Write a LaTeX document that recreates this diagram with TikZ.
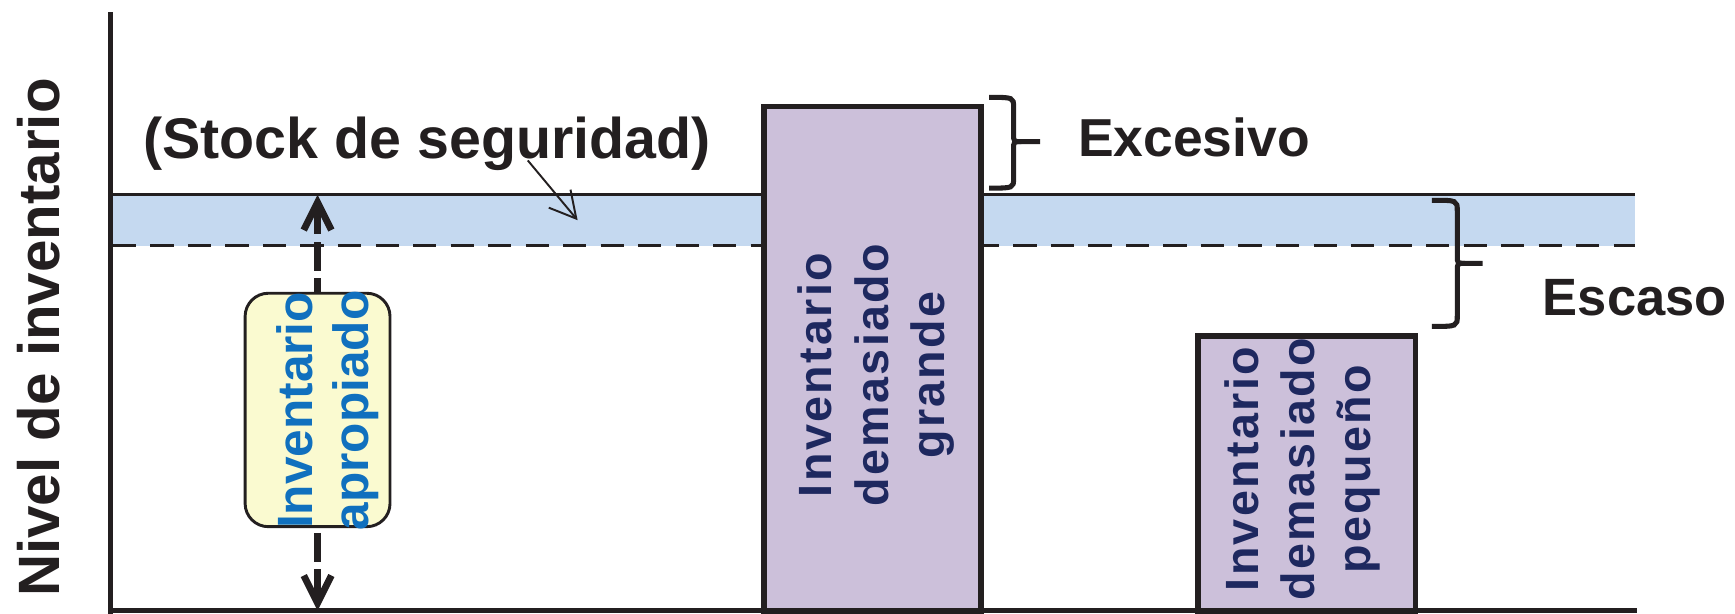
\documentclass[tikz,border=0pt]{standalone}
\usepackage{fontspec}
\setmainfont{Liberation Sans}
\newfontfamily\barfont[LetterSpace=5]{Liberation Sans}
\usetikzlibrary{arrows.meta}
\definecolor{BandBlue}{RGB}{197,217,240}
\definecolor{BarPurple}{RGB}{204,192,218}
\definecolor{SoftYellow}{RGB}{250,250,208}
\definecolor{TextBlue}{RGB}{16,112,190}
\definecolor{TextNavy}{RGB}{30,40,95}
\definecolor{InkBlack}{RGB}{35,31,32}
\tikzset{
  axis/.style={line width=2.6pt,InkBlack},
  bar/.style={draw=InkBlack,fill=BarPurple,line width=2.8pt,inner sep=0pt},
  okbox/.style={draw=InkBlack,fill=SoftYellow,line width=1.5pt,rounded corners=0.42cm,inner sep=0pt},
  bartext/.style={rotate=90,align=center,text=TextNavy,inner sep=0pt,
    font=\barfont\bfseries\fontsize{24}{29}\selectfont},
  oktext/.style={rotate=90,align=center,text=TextBlue,inner sep=0pt,
    font=\bfseries\fontsize{25.5}{28.5}\selectfont},
  bigtext/.style={text=InkBlack,inner sep=0pt,font=\bfseries\fontsize{27.5}{31}\selectfont},
  bandline/.style={line width=1.3pt,InkBlack},
  dasharrow/.style={{Straight Barb[length=5mm,width=5mm]}-{Straight Barb[length=5mm,width=5mm]},
    line width=3.5pt,dash pattern=on 14.7pt off 4pt,InkBlack},
  pointer/.style={-{Straight Barb[length=4.7mm,width=5.1mm]},line width=1pt,InkBlack},
  bracket/.style={line width=2.6pt,InkBlack}
}

\begin{document}
\begin{tikzpicture}[x=0.02cm,y=-0.02cm]
  \useasboundingbox (0,0) rectangle (1568,554);

  % safety stock band
  \coordinate (bandNW) at (102,176);
  \coordinate (bandSE) at (1478,222);
  \fill[BandBlue] (bandNW) rectangle (bandSE);
  \draw[bandline] (bandNW) -- (bandNW -| bandSE);
  \draw[bandline,dash pattern=on 11.9pt off 7.4pt] (bandNW |- bandSE) -- (bandSE);

  % inventory bars
  \node[bar,minimum width=3.92cm,minimum height=9.2cm] (big) at (788.5,326) {};
  \node[bar,minimum width=3.93cm,minimum height=5.05cm] (small) at (1180.8,429.75) {};

  % axes
  \coordinate (ytop) at (100,11);
  \coordinate (origin) at (100,552);
  \coordinate (xend) at (1479,552);
  \draw[axis] (ytop) -- (100,556);
  \draw[axis] (98,552) -- (xend);
  \node[bigtext,rotate=90,font=\bfseries\fontsize{30}{34}\selectfont] (ylabel) at (35,305) {Nivel de inventario};

  % appropriate inventory range
  \coordinate (safetop) at (287,176);
  \draw[dasharrow] (safetop) -- (safetop |- origin);
  \node[okbox,minimum width=2.62cm,minimum height=4.22cm] (okbox) at (287,370.5) {};
  \node[oktext] (oktxt) at (296,371) {Inventario\\apropiado};

  % bar labels
  \node[bartext] (bigtxt) at (792,339) {Inventario\\demasiado\\grande};
  \node[bartext] (smalltxt) at (1177,424) {Inventario\\demasiado\\pequeño};

  % safety stock label and pointer
  \node[bigtext,anchor=base,font=\bfseries\fontsize{29.5}{33}\selectfont] (stock) at (386,143) {(Stock de seguridad)};
  \coordinate (pointfrom) at (477,145);
  \coordinate (pointto) at (522,199);
  \draw[pointer] (pointfrom) -- (pointto);

  % braces
  \draw[bracket] (894,88) .. controls (916,88) .. (916,97) -- (916,121)
    .. controls (916,128) .. (923,128) -- (940,128);
  \draw[bracket] (923,128) .. controls (916,128) .. (916,135) -- (916,161)
    .. controls (916,170) .. (894,170);
  \node[bigtext,anchor=base west] (excess) at (974,141) {Excesivo};

  \draw[bracket] (1294,181) .. controls (1317,181) .. (1317,191) -- (1317,231)
    .. controls (1317,238) .. (1324,238) -- (1340,238);
  \draw[bracket] (1324,238) .. controls (1317,238) .. (1317,245) -- (1317,285)
    .. controls (1317,295) .. (1294,295);
  \node[bigtext,anchor=base west,font=\bfseries\fontsize{27}{31}\selectfont] (scarce) at (1394,285) {Escaso};
\end{tikzpicture}
\end{document}
